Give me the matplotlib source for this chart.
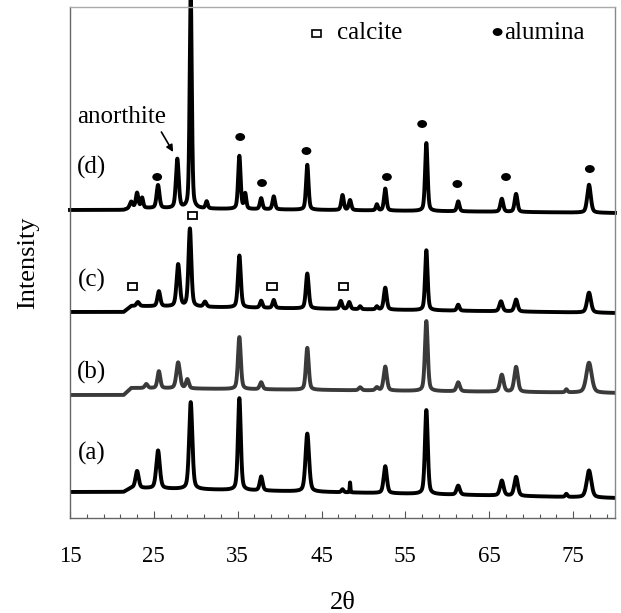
import numpy as np
import matplotlib
matplotlib.use("Agg")
import matplotlib.pyplot as plt
from matplotlib.patches import Ellipse, Rectangle

plt.rcParams["font.family"] = ["Liberation Serif", "DejaVu Serif"]

# --- Data (2theta in degrees, intensity in arbitrary units) ---
# peak centre, peak height above background, FWHM
d_pos = [22.3, 23.0, 23.6, 25.5, 27.8, 29.4, 31.3, 35.2, 35.9, 37.8, 39.3, 43.3,
         47.5, 48.4, 51.6, 52.6, 57.5, 61.3, 66.5, 68.2, 76.9]
d_hgt = [6, 15, 10, 23, 49, 215, 7, 53, 15, 11, 13, 45, 15, 10, 6, 22, 68, 10, 13, 18, 28]
d_fwhm = [0.4, 0.35, 0.3, 0.4, 0.4, 0.3, 0.3, 0.35, 0.3, 0.35, 0.35, 0.35,
          0.35, 0.35, 0.3, 0.35, 0.35, 0.35, 0.4, 0.4, 0.5]

c_pos = [23.1, 25.6, 27.9, 29.3, 31.1, 35.2, 37.8, 39.3, 43.3, 47.3, 48.3, 49.6,
         51.6, 52.6, 57.5, 61.3, 66.4, 68.2, 76.9]
c_hgt = [4, 15, 42, 78, 5, 52, 7, 8, 35, 8, 7, 3, 3, 22, 60, 6, 10, 12, 20]
c_fwhm = [0.4, 0.4, 0.45, 0.4, 0.4, 0.4, 0.35, 0.35, 0.4, 0.35, 0.35, 0.3,
          0.3, 0.4, 0.35, 0.35, 0.45, 0.45, 0.55]

b_pos = [24.1, 25.6, 27.9, 29.0, 35.2, 37.8, 43.3, 49.6, 51.6, 52.6, 57.5, 61.3,
         66.5, 68.2, 74.2, 76.9]
b_hgt = [4, 17, 26, 9, 52, 7, 42, 3, 3, 24, 70, 9, 17, 25, 3, 30]
b_fwhm = [0.4, 0.4, 0.5, 0.4, 0.4, 0.4, 0.4, 0.4, 0.4, 0.45, 0.4, 0.45,
          0.5, 0.5, 0.3, 0.75]

a_pos = [23.0, 25.5, 29.4, 35.2, 37.8, 43.3, 47.5, 48.4, 52.6, 57.5, 61.3,
         66.5, 68.2, 74.2, 76.9]
a_hgt = [17, 38, 87, 92, 14, 58, 3, 10, 27, 84, 9, 15, 19, 3, 27]
a_fwhm = [0.45, 0.5, 0.45, 0.4, 0.4, 0.5, 0.3, 0.1, 0.45, 0.4, 0.45,
          0.5, 0.5, 0.3, 0.65]

# background: level at 15 deg, level just after the rise at ~22 deg, level at 80 deg
bg_start = {"a": 26, "b": 123, "c": 206, "d": 308}
bg_after = {"a": 30, "b": 130, "c": 212, "d": 310}
bg_end = {"a": 20, "b": 125, "c": 205, "d": 305}
BG_RISE = (21.4, 22.3)

# phase markers
alumina_x = [25.4, 35.3, 37.9, 43.2, 52.8, 57.0, 61.2, 67.0, 77.0]
alumina_y = [341, 381, 335, 367, 341, 394, 334, 341, 349]
calcite_x = [29.6, 22.5, 39.1, 47.6]
calcite_y = [303, 232, 232, 232]

trace_labels = ["(a)", "(b)", "(c)", "(d)"]
trace_label_y = [65, 146, 238, 351]


def pattern(x, pos, hgt, fwhm, key):
    x0, x1 = BG_RISE
    y = np.interp(x, [15, x0, x1, 80],
                  [bg_start[key], bg_start[key], bg_after[key], bg_end[key]])
    for p, h, w in zip(pos, hgt, fwhm):
        g = np.exp(-4 * np.log(2) * ((x - p) / w) ** 2)
        lor = 1.0 / (1.0 + 4 * ((x - p) / w) ** 2)
        y = y + h * (0.6 * g + 0.4 * lor)
    return y


x = np.linspace(15, 80, 6000)

fig = plt.figure(figsize=(6.21, 6.13), dpi=100)
ax = fig.add_axes([70 / 621, 95 / 613, 545 / 621, 511 / 613])

ax.plot(x, pattern(x, a_pos, a_hgt, a_fwhm, "a"), color="black", lw=2.8)
ax.plot(x, pattern(x, b_pos, b_hgt, b_fwhm, "b"), color="#3a3a3a", lw=2.8)
ax.plot(x, pattern(x, c_pos, c_hgt, c_fwhm, "c"), color="black", lw=2.8)
ax.plot(x, pattern(x, d_pos, d_hgt, d_fwhm, "d"), color="black", lw=2.8, clip_on=False)

ax.set_xlim(15, 80)
ax.set_ylim(0, 511)

# markers
for xe, ye in zip(alumina_x, alumina_y):
    ax.add_patch(Ellipse((xe, ye), 1.0, 6.5, color="black"))
for xs, ys in zip(calcite_x, calcite_y):
    ax.add_patch(Rectangle((xs - 0.55, ys - 3.5), 1.1, 7, fill=False, ec="black", lw=1.3))

# legend drawn as text
ax.add_patch(Rectangle((44.4 - 0.5, 485 - 3.5), 1.0, 7, fill=False, ec="black", lw=1.2))
ax.text(46.9, 485, "calcite", fontsize=18, va="center", ha="left")
ax.add_patch(Ellipse((66.0, 486), 1.0, 6.5, color="black"))
ax.text(66.8, 485, "alumina", fontsize=18, va="center", ha="left")

for lab, ly in zip(trace_labels, trace_label_y):
    ax.text(17.6, ly, lab, fontsize=18, ha="center", va="center")

ax.text(21.1, 401, "anorthite", fontsize=18, ha="center", va="center")
ax.annotate("", xy=(27.3, 366), xytext=(25.9, 386),
            arrowprops=dict(arrowstyle="-|>", color="black", lw=1.2,
                            mutation_scale=10, shrinkA=0, shrinkB=0))

# axes styling
ax.set_xticks([15, 25, 35, 45, 55, 65, 75])
ax.set_xticks(np.arange(15, 81, 2), minor=True)
ax.set_yticks([])
ax.tick_params(axis="x", which="major", direction="in", length=5, width=0.8,
               color="#555555", labelsize=16.5, pad=20)
ax.tick_params(axis="x", which="minor", direction="in", length=3, width=0.8, color="#555555")
for s in ax.spines.values():
    s.set_color("#666666")
    s.set_linewidth(1.0)
ax.spines["top"].set_color("#aaaaaa")
ax.spines["right"].set_color("#888888")

ax.set_xlabel("2\u03b8", fontsize=19, labelpad=18)
ax.set_ylabel("Intensity", fontsize=19, labelpad=22)

fig.savefig("out.png", dpi=100)
